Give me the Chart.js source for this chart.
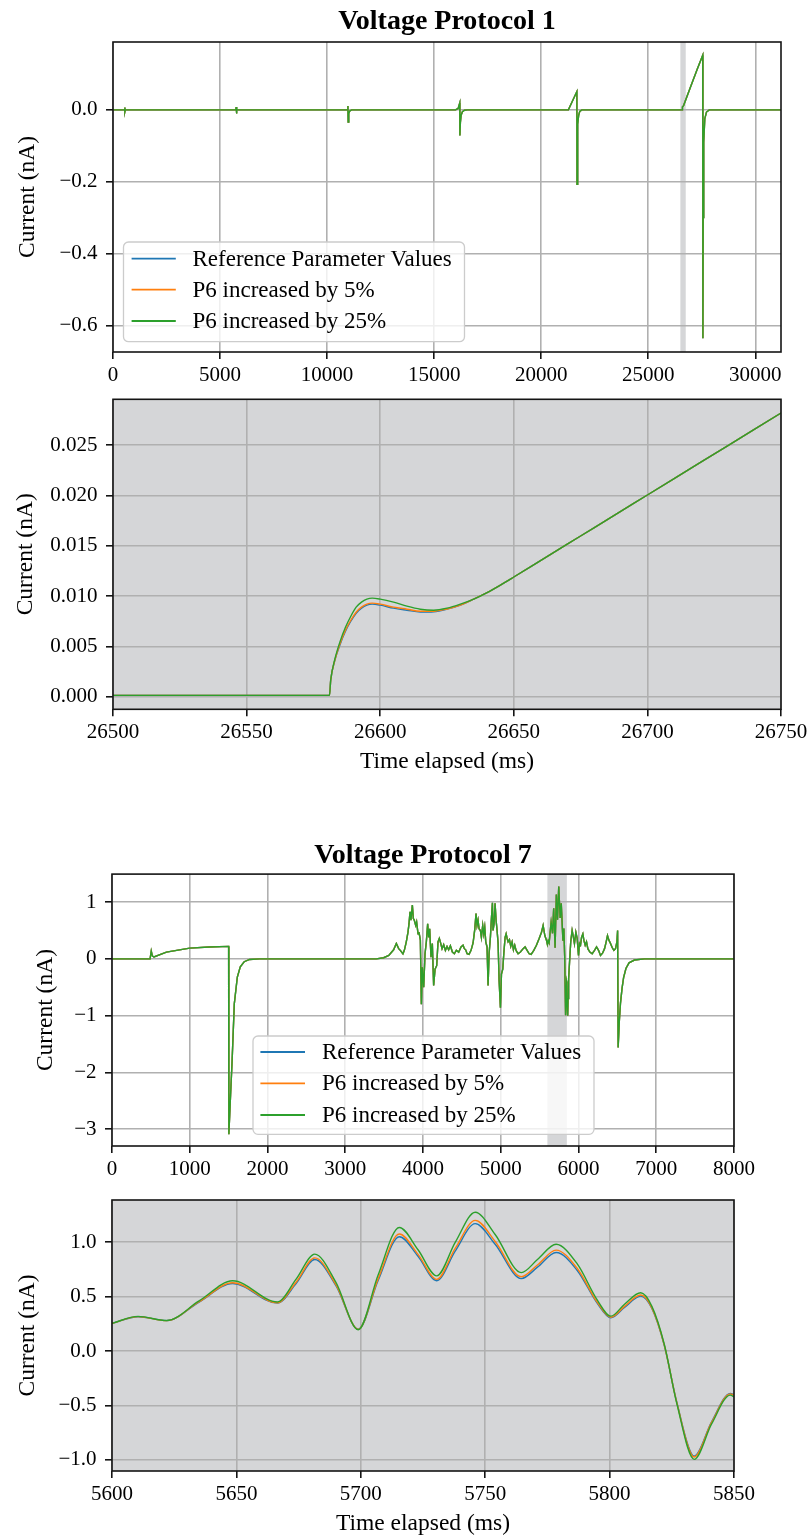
<!DOCTYPE html>
<html><head><meta charset="utf-8">
<script src="https://cdn.jsdelivr.net/npm/chart.js@4.4.1/dist/chart.umd.min.js"></script>
<style>
html,body{margin:0;padding:0;background:#fff;}
#wrap{position:relative;width:807px;height:1536px;overflow:hidden;}
canvas{position:absolute;left:0;}
</style></head><body>
<div id="wrap">
<canvas id="c1" width="807" height="390" style="top:0px"></canvas>
<canvas id="c2" width="807" height="390" style="top:390px"></canvas>
<canvas id="c3" width="807" height="370" style="top:820px"></canvas>
<canvas id="c4" width="807" height="346" style="top:1190px"></canvas>
</div>
<script>
// ---------------- DATA ----------------
const SERIES_NAMES = ['Reference Parameter Values', 'P6 increased by 5%', 'P6 increased by 25%'];
const SERIES_COLORS = ['#1f77b4', '#ff7f0e', '#2ca02c'];
const TITLES = ['Voltage Protocol 1', 'Voltage Protocol 7'];
const Y_LABEL = 'Current (nA)';
const X_LABEL = 'Time elapsed (ms)';

// Protocol 1, full trace (the three series coincide at this scale)
const P1_T = [0, 540, 552, 560, 575, 5740, 5752, 5762, 5790, 10960, 10972, 10985, 11010, 11060, 11150,
  16000, 16120, 16195, 16202, 16225, 16260, 16320, 16420, 16550,
  21270, 21665, 21672, 21690, 21715, 21750, 21800, 21900,
  26581, 26582, 26595, 26615, 26650, 27000, 27300, 27545, 27552, 27565, 27590, 27640, 27720, 27850, 31200];
const P1_REF = [0, 0, 0.007, -0.005, 0, 0, 0.008, -0.010, 0, 0, 0.011, -0.034, -0.010, -0.003, 0,
  0, 0.004, 0.019, -0.071, -0.035, -0.015, -0.005, -0.001, 0,
  0, 0.051, -0.207, -0.100, -0.040, -0.015, -0.004, 0,
  0.0001, 0.0017, 0.0092, 0.0084, 0.0119, 0.068, 0.115, 0.152, -0.636, -0.300, -0.090, -0.025, -0.006, 0, 0];
const P1_P5 = P1_REF;
const P1_P25 = P1_REF;
const P1_BAND = [26500, 26750];

// Protocol 1, zoom 26500-26750 ms
const P2_T = [26500, 26581, 26581.5, 26583, 26585, 26587, 26589, 26591, 26593, 26595, 26597, 26600, 26605, 26610, 26615, 26620, 26625, 26630, 26635, 26640, 26645, 26650, 26660, 26670, 26680, 26690, 26700, 26710, 26720, 26730, 26740, 26750];
const P2_REF = [0.00013, 0.00013, 0.0017, 0.0036, 0.0052, 0.0065, 0.0075, 0.0083, 0.0088, 0.0091, 0.0092, 0.0091, 0.0088, 0.0086, 0.00842, 0.00845, 0.0087, 0.0091, 0.0097, 0.01035, 0.0111, 0.0119, 0.01353, 0.01516, 0.01679, 0.01842, 0.02005, 0.02168, 0.02331, 0.02494, 0.02657, 0.0282];
const P2_P5 = [0.00013, 0.00013, 0.0017, 0.0036, 0.0053, 0.0066, 0.0076, 0.0084, 0.0089, 0.0092, 0.0093, 0.0092, 0.0089, 0.0087, 0.0085, 0.0085, 0.00872, 0.0091, 0.0097, 0.01035, 0.0111, 0.0119, 0.01353, 0.01516, 0.01679, 0.01842, 0.02005, 0.02168, 0.02331, 0.02494, 0.02657, 0.0282];
const P2_P25 = [0.00013, 0.00013, 0.0017, 0.0037, 0.0055, 0.0069, 0.0080, 0.0089, 0.0094, 0.0097, 0.0098, 0.0097, 0.0094, 0.0090, 0.0087, 0.0086, 0.0088, 0.0092, 0.0097, 0.01035, 0.0111, 0.0119, 0.01353, 0.01516, 0.01679, 0.01842, 0.02005, 0.02168, 0.02331, 0.02494, 0.02657, 0.0282];

// Protocol 7, full trace
const P7_T = [0, 490, 505, 520, 540, 700, 1000, 1250, 1500, 1503, 1525, 1545, 1573, 1612, 1650, 1700, 1770, 1900,
  3400, 3494, 3560, 3622, 3657, 3687, 3708, 3742, 3760, 3785, 3807, 3820, 3833, 3845, 3863, 3876, 3888, 3906, 3918, 3936, 3948, 3966,
  3979, 3991, 4009, 4026, 4043, 4060, 4073, 4086, 4103, 4120, 4137, 4155, 4176, 4193, 4210, 4223, 4245, 4266, 4288, 4309, 4330, 4352,
  4378, 4403, 4429, 4459, 4489, 4515, 4532, 4549, 4567, 4592, 4618, 4644, 4665, 4682, 4695, 4708, 4721, 4738, 4751, 4768, 4781, 4794,
  4807, 4824, 4837, 4850, 4867, 4880, 4893, 4901, 4914, 4927, 4940, 4953, 4966, 4979, 4996, 5009, 5026, 5039, 5056, 5069, 5082, 5094,
  5112, 5129, 5146, 5163, 5180, 5197, 5223, 5253, 5288, 5313, 5339, 5365, 5391, 5425, 5459, 5494, 5524, 5545, 5567, 5588,
  5600, 5610, 5622, 5648, 5666, 5681, 5699, 5715, 5730, 5746, 5764, 5778, 5800, 5812, 5822, 5834, 5848,
  5850, 5856, 5861, 5866, 5873, 5885, 5900, 5918, 5931, 5948, 5966, 5983, 6000, 6013, 6026, 6039, 6056, 6069, 6086, 6103, 6120,
  6146, 6176, 6206, 6232, 6258, 6283, 6309, 6335, 6356, 6373, 6391, 6412, 6433, 6455, 6476, 6494, 6503,
  6510, 6525, 6540, 6560, 6580, 6610, 6650, 6720, 6850, 8000];
const P7_REF = [0, 0, 0.14, 0.05, 0.035, 0.12, 0.19, 0.21, 0.22, -3.09, -2.40, -1.79, -0.79, -0.32, -0.14, -0.05, -0.01, 0,
  0, 0.02, 0.06, 0.16, 0.27, 0.18, 0.15, 0.09, 0.15, 0.30, 0.47, 0.62, 0.83, 0.68, 0.95, 0.71, 0.68, 0.59, 0.65, 0.44, 0.47, 0.33,
  -0.80, -0.15, -0.50, 0.09, 0.30, 0.62, 0.38, 0.53, 0.03, 0.27, -0.47, -0.18, -0.12, 0.30, 0.36, 0.30, 0.18, 0.25, 0.15, 0.22, 0.16, 0.23,
  0.12, 0.09, 0.15, 0.12, 0.21, 0.24, 0.18, 0.16, 0.09, 0.08, 0.15, 0.28, 0.51, 0.80, 0.59, 0.68, 0.53, 0.50, 0.38, 0.59, 0.44, 0.56,
  0.30, 0.21, -0.47, 0.09, 0.38, 0.71, 0.99, 0.50, 0.62, 0.98, 0.68, 0.50, 0.27, -0.38, -0.86, -0.27, -0.18, 0.09, 0.38, 0.44, 0.36, 0.30,
  0.34, 0.22, 0.30, 0.16, 0.24, 0.15, 0.09, 0.12, 0.18, 0.21, 0.15, 0.09, 0.08, 0.15, 0.24, 0.36, 0.47, 0.59, 0.41, 0.33,
  0.254, 0.318, 0.28, 0.645, 0.45, 0.89, 0.195, 1.135, 0.69, 1.275, 0.72, 0.98, 0.32, 0.535, 0.06, -0.995, -0.405,
  -0.42, -0.85, -1.00, -0.70, -0.35, -0.05, 0.30, 0.50, 0.41, 0.27, 0.47, 0.36, 0.06, 0.27, 0.24, 0.38, 0.44, 0.33, 0.24, 0.30, 0.18,
  0.12, 0.09, 0.15, 0.21, 0.15, 0.06, 0.10, 0.18, 0.30, 0.41, 0.33, 0.27, 0.20, 0.15, 0.18, 0.30, 0.50,
  -1.56, -1.10, -0.78, -0.52, -0.33, -0.17, -0.07, -0.02, 0, 0];
const P7_P5 = P7_REF;
const P7_P25 = P7_REF;
const P7_BAND = [5600, 5850];

// Protocol 7, zoom 5600-5850 ms
const P4_T = [5600, 5610.5, 5622, 5635, 5648.5, 5666.5, 5674, 5681.5, 5690, 5699, 5707, 5715.5, 5723, 5730.5, 5738, 5746, 5754, 5764.5, 5771, 5778.5, 5787, 5795, 5800.5, 5806, 5812.5, 5817, 5822, 5827, 5834, 5841, 5848.5, 5850];
const P4_REF = [0.254, 0.315, 0.279, 0.45, 0.62, 0.44, 0.62, 0.84, 0.60, 0.20, 0.65, 1.05, 0.87, 0.645, 0.92, 1.17, 0.98, 0.665, 0.77, 0.905, 0.74, 0.44, 0.305, 0.40, 0.505, 0.39, 0.05, -0.47, -0.965, -0.65, -0.39, -0.40];
const P4_P5 = [0.254, 0.316, 0.279, 0.453, 0.627, 0.443, 0.632, 0.855, 0.61, 0.199, 0.665, 1.075, 0.888, 0.658, 0.944, 1.20, 1.006, 0.682, 0.79, 0.927, 0.758, 0.449, 0.31, 0.41, 0.514, 0.396, 0.053, -0.473, -0.974, -0.656, -0.394, -0.406];
const P4_P25 = [0.254, 0.318, 0.28, 0.46, 0.645, 0.45, 0.66, 0.89, 0.63, 0.195, 0.70, 1.135, 0.93, 0.69, 1.00, 1.275, 1.07, 0.72, 0.84, 0.98, 0.80, 0.47, 0.32, 0.43, 0.535, 0.41, 0.06, -0.48, -0.995, -0.67, -0.405, -0.42];

// Ticks
const P1_XTICKS = [0, 5000, 10000, 15000, 20000, 25000, 30000];
const P1_XLABELS = ['0', '5000', '10000', '15000', '20000', '25000', '30000'];
const P1_YTICKS = [-0.6, -0.4, -0.2, 0.0];
const P1_YLABELS = ['\u22120.6', '\u22120.4', '\u22120.2', '0.0'];
const P2_XTICKS = [26500, 26550, 26600, 26650, 26700, 26750];
const P2_XLABELS = ['26500', '26550', '26600', '26650', '26700', '26750'];
const P2_YTICKS = [0, 0.005, 0.010, 0.015, 0.020, 0.025];
const P2_YLABELS = ['0.000', '0.005', '0.010', '0.015', '0.020', '0.025'];
const P7_XTICKS = [0, 1000, 2000, 3000, 4000, 5000, 6000, 7000, 8000];
const P7_XLABELS = ['0', '1000', '2000', '3000', '4000', '5000', '6000', '7000', '8000'];
const P7_YTICKS = [-3, -2, -1, 0, 1];
const P7_YLABELS = ['\u22123', '\u22122', '\u22121', '0', '1'];
const P4_XTICKS = [5600, 5650, 5700, 5750, 5800, 5850];
const P4_XLABELS = ['5600', '5650', '5700', '5750', '5800', '5850'];
const P4_YTICKS = [-1.0, -0.5, 0.0, 0.5, 1.0];
const P4_YLABELS = ['\u22121.0', '\u22120.5', '0.0', '0.5', '1.0'];

// ---------------- STYLE / HELPERS ----------------
const FONT = '"Liberation Serif", "DejaVu Serif", serif';
const GRID = '#b0b0b0';
const SHADE = '#d5d6d8';
const SPINE = '#141414';

function pts(T, V) { return T.map((t, i) => ({x: t, y: V[i]})); }

function datasets(T, series, smooth) {
  return series.map((V, k) => ({
    label: SERIES_NAMES[k],
    data: pts(T, V),
    borderColor: SERIES_COLORS[k],
    backgroundColor: SERIES_COLORS[k],
    borderWidth: 1.4,
    pointRadius: 0,
    fill: false,
    tension: 0,
    cubicInterpolationMode: smooth ? 'monotone' : 'default',
    order: 3 - k
  }));
}

function decoPlugin(cfg) {
  return {
    id: 'deco',
    beforeDraw(chart) {
      const {ctx, chartArea: a, scales} = chart;
      ctx.save();
      if (cfg.bg) { ctx.fillStyle = SHADE; ctx.fillRect(a.left, a.top, a.right - a.left, a.bottom - a.top); }
      if (cfg.band) {
        const x0 = Math.max(a.left, scales.x.getPixelForValue(cfg.band[0]));
        const x1 = Math.min(a.right, scales.x.getPixelForValue(cfg.band[1]));
        ctx.fillStyle = SHADE;
        ctx.fillRect(x0, a.top, x1 - x0, a.bottom - a.top);
      }
      ctx.restore();
    },
    afterDatasetsDraw(chart) {
      const {ctx, chartArea: a} = chart;
      ctx.save();
      ctx.strokeStyle = SPINE; ctx.lineWidth = 1.6;
      ctx.strokeRect(a.left, a.top, a.right - a.left, a.bottom - a.top);
      ctx.restore();
    },
    afterDraw(chart) {
      const L = cfg.legend;
      if (!L) return;
      const ctx = chart.ctx;
      ctx.save();
      const r = 5;
      ctx.beginPath();
      ctx.moveTo(L.left + r, L.top);
      ctx.arcTo(L.right, L.top, L.right, L.bottom, r);
      ctx.arcTo(L.right, L.bottom, L.left, L.bottom, r);
      ctx.arcTo(L.left, L.bottom, L.left, L.top, r);
      ctx.arcTo(L.left, L.top, L.right, L.top, r);
      ctx.closePath();
      ctx.fillStyle = 'rgba(255,255,255,0.8)';
      ctx.fill();
      ctx.strokeStyle = '#cccccc'; ctx.lineWidth = 1.3;
      ctx.stroke();
      ctx.font = '23px ' + FONT;
      ctx.textBaseline = 'middle'; ctx.textAlign = 'left';
      SERIES_NAMES.forEach((name, k) => {
        const y = L.rows[k];
        ctx.strokeStyle = SERIES_COLORS[k]; ctx.lineWidth = 1.8;
        ctx.beginPath(); ctx.moveTo(L.h0, y); ctx.lineTo(L.h1, y); ctx.stroke();
        ctx.fillStyle = '#000';
        ctx.fillText(name, L.tx, y + 1);
      });
      ctx.restore();
    }
  };
}

function makeChart(id, c) {
  const tickFont = {family: FONT, size: 21, lineHeight: 1.2};
  return new Chart(document.getElementById(id), {
    type: 'line',
    data: {datasets: c.datasets},
    options: {
      responsive: false, animation: false, events: [],
      layout: {padding: c.pad},
      plugins: {
        legend: {display: false},
        tooltip: {enabled: false},
        title: c.title ? {display: true, text: c.title, fullSize: false, color: '#000',
          font: {family: FONT, size: 28, weight: 'bold', lineHeight: 1.2},
          padding: {top: c.titlePad[0], bottom: c.titlePad[1]}} : {display: false}
      },
      scales: {
        x: {
          type: 'linear', position: 'bottom', min: c.xr[0], max: c.xr[1],
          afterBuildTicks: s => { s.ticks = c.xt.map(v => ({value: v})); },
          afterFit: s => { s.height = c.xh; s.paddingLeft = 0; s.paddingRight = 0; s.paddingTop = 0; s.paddingBottom = 0; },
          ticks: {autoSkip: false, maxRotation: 0, minRotation: 0, color: '#000', font: tickFont, padding: 4,
            callback: (v, i) => c.xl[i]},
          grid: {color: GRID, lineWidth: 1.6, drawTicks: true, tickLength: 7, tickColor: SPINE, tickWidth: 1.6},
          border: {display: false},
          title: c.xtitle !== undefined ? {display: true, text: X_LABEL, color: '#000',
            font: {family: FONT, size: 23.5, lineHeight: 1.05}, padding: {top: 0, bottom: c.xtitle}} : {display: false}
        },
        y: {
          type: 'linear', position: 'left', min: c.yr[0], max: c.yr[1],
          afterBuildTicks: s => { s.ticks = c.yt.map(v => ({value: v})); },
          afterFit: s => { s.width = c.yw; s.paddingTop = 0; s.paddingBottom = 0; s.paddingLeft = 0; s.paddingRight = 0; },
          ticks: {autoSkip: false, color: '#000', font: tickFont, padding: 8.5,
            callback: (v, i) => c.yl[i]},
          grid: {color: GRID, lineWidth: 1.6, drawTicks: true, tickLength: 7, tickColor: SPINE, tickWidth: 1.6},
          border: {display: false},
          title: {display: true, text: Y_LABEL, color: '#000', font: {family: FONT, size: 23.5, lineHeight: 1.2}, padding: {top: c.ytitle, bottom: 0}}
        }
      }
    },
    plugins: [decoPlugin(c)]
  });
}

// Panel 1
makeChart('c1', {
  datasets: datasets(P1_T, [P1_REF, P1_P5, P1_P25], false),
  pad: {top: 0, left: 0, right: 26, bottom: 0},
  title: TITLES[0], titlePad: [4.5, 3.9],
  xr: [0, 31200], xt: P1_XTICKS, xl: P1_XLABELS, xh: 38,
  yr: [-0.674, 0.189], yt: P1_YTICKS, yl: P1_YLABELS, yw: 113, ytitle: 13.4,
  band: P1_BAND,
  legend: {left: 123.5, top: 242, right: 464.5, bottom: 341.7, h0: 131.6, h1: 175.8, tx: 192.5, rows: [258.7, 289.7, 321]}
});
// Panel 2
makeChart('c2', {
  datasets: datasets(P2_T, [P2_REF, P2_P5, P2_P25], true),
  pad: {top: 9.3, left: 0, right: 26, bottom: 0},
  xr: [26500, 26750], xt: P2_XTICKS, xl: P2_XLABELS, xh: 70.7, xtitle: 5.7,
  yr: [-0.00125, 0.02956], yt: P2_YTICKS, yl: P2_YLABELS, yw: 113, ytitle: 11.4,
  bg: true
});
// Panel 3
makeChart('c3', {
  datasets: datasets(P7_T, [P7_REF, P7_P5, P7_P25], false),
  pad: {top: 0, left: 0, right: 73, bottom: 0},
  title: TITLES[1], titlePad: [18.5, 2],
  xr: [0, 8000], xt: P7_XTICKS, xl: P7_XLABELS, xh: 44,
  yr: [-3.298, 1.494], yt: P7_YTICKS, yl: P7_YLABELS, yw: 112, ytitle: 31.9,
  band: P7_BAND,
  legend: {left: 253, top: 216, right: 594, bottom: 314.3, h0: 260.4, h1: 305, tx: 322, rows: [232, 263.3, 295]}
});
// Panel 4
makeChart('c4', {
  datasets: datasets(P4_T, [P4_REF, P4_P5, P4_P25], true),
  pad: {top: 10, left: 0, right: 73, bottom: 0},
  xr: [5600, 5850], xt: P4_XTICKS, xl: P4_XLABELS, xh: 65, xtitle: 0,
  yr: [-1.102, 1.387], yt: P4_YTICKS, yl: P4_YLABELS, yw: 112, ytitle: 13.4,
  bg: true
});
</script>
</body></html>
